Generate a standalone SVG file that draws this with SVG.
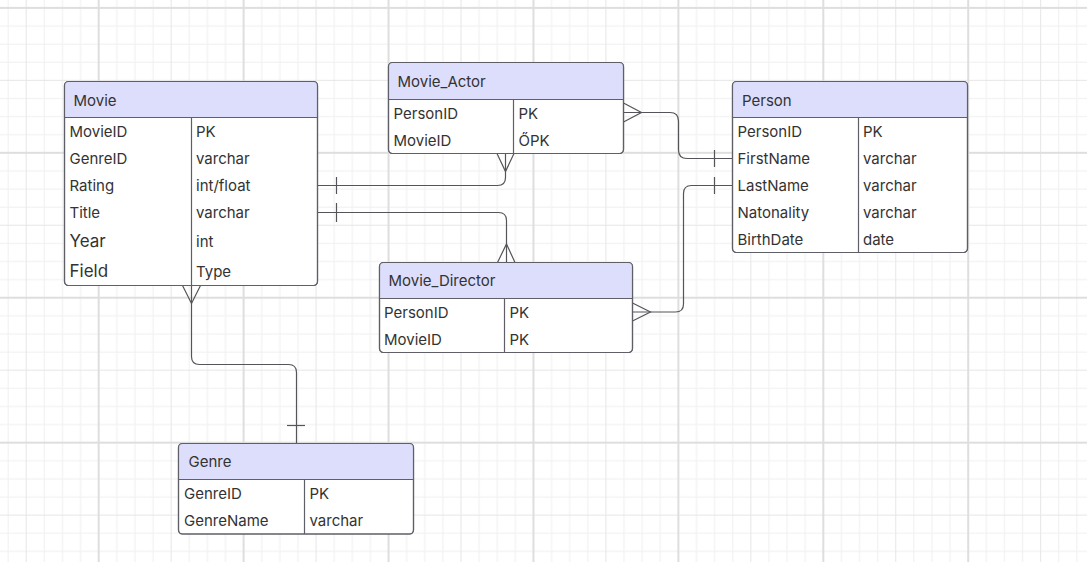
<svg xmlns="http://www.w3.org/2000/svg" width="1087" height="562" viewBox="0 0 1087 562">
<style>
.body{fill:#ffffff;stroke:#5f5f68;stroke-width:1.2}
.hdr{fill:#dddefc}
.ln{stroke:#5f5f68;stroke-width:1.2;fill:none}
.conn{stroke:#555559;stroke-width:1.2;fill:none}
text{font-family:Inter,"Liberation Sans",sans-serif;font-size:15px;fill:#333333;dominant-baseline:central}
.big{font-size:17px}
</style>
<defs>
<pattern id="grid" patternUnits="userSpaceOnUse" x="97.7" y="6.9" width="144.92" height="144.92">
<g fill="#f0f0f0">
<rect x="18.615" y="0" width="1" height="144.92"/><rect x="36.73" y="0" width="1" height="144.92"/><rect x="54.845" y="0" width="1" height="144.92"/>
<rect x="91.075" y="0" width="1" height="144.92"/><rect x="109.19" y="0" width="1" height="144.92"/><rect x="127.305" y="0" width="1" height="144.92"/>
<rect y="18.615" x="0" height="1" width="144.92"/><rect y="36.73" x="0" height="1" width="144.92"/><rect y="54.845" x="0" height="1" width="144.92"/>
<rect y="91.075" x="0" height="1" width="144.92"/><rect y="109.19" x="0" height="1" width="144.92"/><rect y="127.305" x="0" height="1" width="144.92"/>
</g>
<g fill="#e6e6e6">
<rect x="72.96" y="0" width="1" height="144.92"/><rect y="72.96" x="0" height="1" width="144.92"/>
</g>
<g fill="#dedede">
<rect x="0" y="0" width="2" height="144.92"/><rect y="0" x="0" height="2" width="144.92"/>
</g>
</pattern>
</defs>
<rect x="0" y="0" width="1087" height="562" fill="#ffffff"/>
<rect x="0" y="0" width="1087" height="562" fill="url(#grid)"/>

<g id="connectors">
<path class="conn" d="M317.5,185.5 H497.5 Q505.5,185.5 505.5,177.5 V153.5"/>
<path class="conn" d="M497,153.5 L505.5,171.5 L514,153.5"/>
<path class="conn" d="M336.5,177 V194"/>
<path class="conn" d="M317.5,212.5 H498.5 Q506.5,212.5 506.5,220.5 V262.5"/>
<path class="conn" d="M497.5,262.5 L506.5,244 L515,262.5"/>
<path class="conn" d="M336.5,203 V222"/>
<path class="conn" d="M623.5,112.5 H670 Q678.5,112.5 678.5,121 V150 Q678.5,158.5 687,158.5 H732.5"/>
<path class="conn" d="M623.5,103 L641.5,112.5 L623.5,122"/>
<path class="conn" d="M714.5,150 V167"/>
<path class="conn" d="M732.5,185.5 H691.5 Q683.5,185.5 683.5,193.5 V304 Q683.5,312 675.5,312 H632.5"/>
<path class="conn" d="M632.5,303 L650.5,312 L632.5,321"/>
<path class="conn" d="M714.5,177 V194"/>
<path class="conn" d="M191.5,285.5 V356.5 Q191.5,364.5 199.5,364.5 H288.5 Q296.5,364.5 296.5,372.5 V443.5"/>
<path class="conn" d="M182.5,285.5 L191.5,303.5 L200.5,285.5"/>
<path class="conn" d="M287,425.5 H305"/>
</g>

<g id="movie">
<rect class="body" x="64.5" y="81.5" width="253" height="204" rx="4"/>
<path class="hdr" d="M64.5,117.5 V85.5 Q64.5,81.5 68.5,81.5 H313.5 Q317.5,81.5 317.5,85.5 V117.5 Z"/>
<rect class="ln" x="64.5" y="81.5" width="253" height="204" rx="4"/>
<path class="ln" d="M64.5,117.5 H317.5 M191.5,117.5 V285.5"/>
<text x="73.5" y="100">Movie</text>
<text x="69.5" y="131.5">MovieID</text><text x="196" y="131.5">PK</text>
<text x="69.5" y="158.5">GenreID</text><text x="196" y="158.5">varchar</text>
<text x="69.5" y="185.5">Rating</text><text x="196" y="185.5">int/float</text>
<text x="69.5" y="212.5">Title</text><text x="196" y="212.5">varchar</text>
<text class="big" x="69.5" y="241">Year</text><text x="196" y="241">int</text>
<text class="big" x="69.5" y="271">Field</text><text x="196" y="271">Type</text>
</g>

<g id="movie_actor">
<rect class="body" x="388.5" y="62.5" width="235" height="91" rx="4"/>
<path class="hdr" d="M388.5,99.5 V66.5 Q388.5,62.5 392.5,62.5 H619.5 Q623.5,62.5 623.5,66.5 V99.5 Z"/>
<rect class="ln" x="388.5" y="62.5" width="235" height="91" rx="4"/>
<path class="ln" d="M388.5,99.5 H623.5 M513.5,99.5 V153.5"/>
<text x="397.5" y="81.5">Movie_Actor</text>
<text x="393.5" y="113.5">PersonID</text><text x="518.5" y="113.5">PK</text>
<text x="393.5" y="140">MovieID</text><text x="518.5" y="140">ŐPK</text>
</g>

<g id="person">
<rect class="body" x="732.5" y="81.5" width="235" height="171" rx="4"/>
<path class="hdr" d="M732.5,117.5 V85.5 Q732.5,81.5 736.5,81.5 H963.5 Q967.5,81.5 967.5,85.5 V117.5 Z"/>
<rect class="ln" x="732.5" y="81.5" width="235" height="171" rx="4"/>
<path class="ln" d="M732.5,117.5 H967.5 M858.5,117.5 V252.5"/>
<text x="742" y="100">Person</text>
<text x="737.5" y="131.5">PersonID</text><text x="863" y="131.5">PK</text>
<text x="737.5" y="158.5">FirstName</text><text x="863" y="158.5">varchar</text>
<text x="737.5" y="185.5">LastName</text><text x="863" y="185.5">varchar</text>
<text x="737.5" y="212.5">Natonality</text><text x="863" y="212.5">varchar</text>
<text x="737.5" y="239.5">BirthDate</text><text x="863" y="239.5">date</text>
</g>

<g id="movie_director">
<rect class="body" x="379.5" y="262.5" width="253" height="90" rx="4"/>
<path class="hdr" d="M379.5,298.5 V266.5 Q379.5,262.5 383.5,262.5 H628.5 Q632.5,262.5 632.5,266.5 V298.5 Z"/>
<rect class="ln" x="379.5" y="262.5" width="253" height="90" rx="4"/>
<path class="ln" d="M379.5,298.5 H632.5 M504.5,298.5 V352.5"/>
<text x="388.5" y="280.5">Movie_Director</text>
<text x="384" y="312.5">PersonID</text><text x="509.5" y="312.5">PK</text>
<text x="384" y="339.5">MovieID</text><text x="509.5" y="339.5">PK</text>
</g>

<g id="genre">
<rect class="body" x="178.5" y="443.5" width="235" height="90.5" rx="4"/>
<path class="hdr" d="M178.5,479.5 V447.5 Q178.5,443.5 182.5,443.5 H409.5 Q413.5,443.5 413.5,447.5 V479.5 Z"/>
<rect class="ln" x="178.5" y="443.5" width="235" height="90.5" rx="4"/>
<path class="ln" d="M178.5,479.5 H413.5 M304.5,479.5 V534"/>
<text x="188.5" y="461.5">Genre</text>
<text x="184" y="493.5">GenreID</text><text x="309.5" y="493.5">PK</text>
<text x="184" y="520.5">GenreName</text><text x="309.5" y="520.5">varchar</text>
</g>
</svg>
